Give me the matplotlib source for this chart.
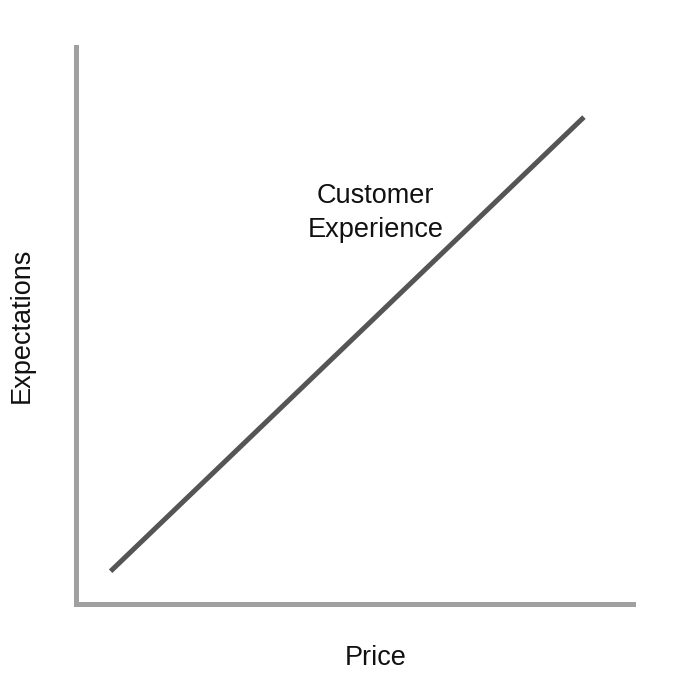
import matplotlib
matplotlib.use("Agg")
import matplotlib.pyplot as plt

plt.rcParams['font.family'] = ['Liberation Sans', 'DejaVu Sans']

price = [0.63, 9.12]
expectations = [0.58, 8.74]
series_label = "Customer\nExperience"

fig = plt.figure(figsize=(6.8, 6.8), dpi=100)
W = 680.0
ax = fig.add_axes([75.5 / W, (W - 603.5) / W, (633 - 75.5) / W, (603.5 - 47) / W])

ax.plot(price, expectations, color="#555555", lw=3.6, solid_capstyle="butt")
ax.text(5.38, 7.02, series_label, ha="center", va="center", fontsize=19.5,
        linespacing=1.4, color="#111111")

ax.set_xlim(0, 10)
ax.set_ylim(0, 10)
ax.set_xticks([])
ax.set_yticks([])
for s in ["top", "right"]:
    ax.spines[s].set_visible(False)
for s in ["left", "bottom"]:
    ax.spines[s].set_color("#a0a0a0")
    ax.spines[s].set_linewidth(3.6)

fig.text(376 / W, 1 - 658 / W, "Price", ha="center", va="center", fontsize=19.5, color="#111111")
fig.text(22 / W, 1 - 325 / W, "Expectations", ha="center", va="center", rotation=90,
         fontsize=19.5, color="#111111")

fig.savefig("out.png", dpi=100, facecolor="white")
